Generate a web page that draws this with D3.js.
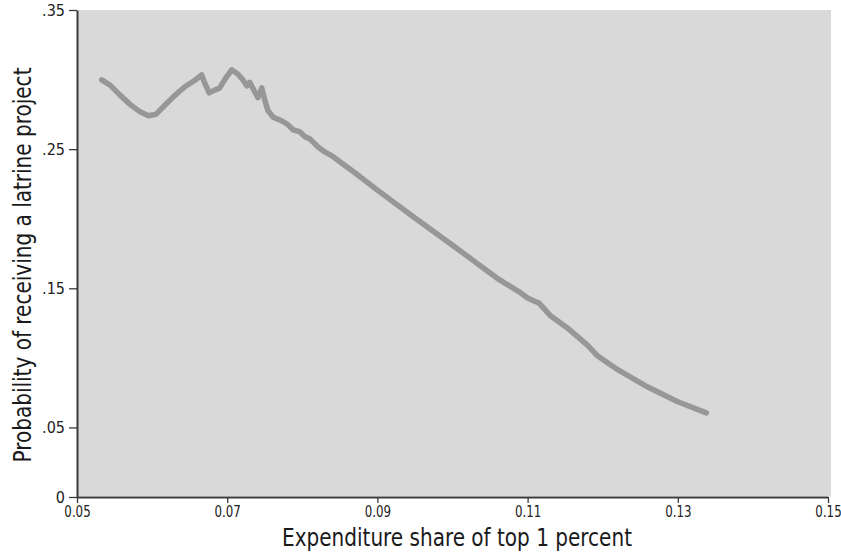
<!DOCTYPE html>
<html>
<head>
<meta charset="utf-8">
<script src="https://cdn.jsdelivr.net/npm/d3@7"></script>
<style>
  html, body { margin: 0; padding: 0; background: #ffffff; }
  svg { display: block; }
  .narrow { font-family: "Liberation Sans Narrow", "DejaVu Sans Condensed", "Arial Narrow", sans-serif; font-stretch: condensed; }
</style>
</head>
<body>
<svg id="chart" width="841" height="552"></svg>
<script>
// ---- data ----
const expenditureShare = [
  0.0533, 0.0544, 0.0557, 0.0571, 0.0584, 0.0595, 0.0605, 0.0617, 0.0630, 0.0644,
  0.0657, 0.0666, 0.0670, 0.0676, 0.0684, 0.0690, 0.0698, 0.0706, 0.0714, 0.0721,
  0.0726, 0.0730, 0.0736, 0.0741, 0.0746, 0.0750, 0.0754, 0.0761, 0.0770, 0.0780,
  0.0788, 0.0797, 0.0804, 0.0810, 0.0821, 0.0830, 0.0840, 0.0850, 0.0870, 0.0900,
  0.0950, 0.1000, 0.1030, 0.1060, 0.1090, 0.1100, 0.1110, 0.1115, 0.1130, 0.1153,
  0.1180, 0.1193, 0.1220, 0.1260, 0.1300, 0.1338
];
const probability = [
  0.2998, 0.2960, 0.2890, 0.2820, 0.2768, 0.2740, 0.2750, 0.2815, 0.2885, 0.2950,
  0.2995, 0.3034, 0.2976, 0.2905, 0.2926, 0.2940, 0.3010, 0.3070, 0.3040, 0.2998,
  0.2955, 0.2980, 0.2920, 0.2870, 0.2940, 0.2854, 0.2780, 0.2730, 0.2710, 0.2680,
  0.2638, 0.2624, 0.2588, 0.2574, 0.2516, 0.2480, 0.2450, 0.2410, 0.2330, 0.2205,
  0.2005, 0.1810, 0.1690, 0.1570, 0.1470, 0.1430, 0.1405, 0.1395, 0.1305, 0.1215,
  0.1090, 0.1015, 0.0915, 0.0790, 0.0685, 0.0605
];
const xTicks = [0.05, 0.07, 0.09, 0.11, 0.13, 0.15];
const xTickLabels = ["0.05", "0.07", "0.09", "0.11", "0.13", "0.15"];
const yTicks = [0, 0.05, 0.15, 0.25, 0.35];
const yTickLabels = ["0", ".05", ".15", ".25", ".35"];
const xTitle = "Expenditure share of top 1 percent";
const yTitle = "Probability of receiving a latrine project";

// ---- layout ----
const svg = d3.select("#chart");
const pLeft = 77, pRight = 828, pTop = 10, pBottom = 497;

const x = d3.scaleLinear().domain([0.05, 0.15]).range([pLeft, pRight]);
const y = d3.scaleLinear().domain([0, 0.35]).range([pBottom, pTop]);

// plot region background
svg.append("rect")
  .attr("x", pLeft + 1).attr("y", pTop)
  .attr("width", pRight - pLeft + 2).attr("height", pBottom - pTop - 1)
  .attr("fill", "#d9d9d9");

// line
const pts = expenditureShare.map((d, i) => [d, probability[i]]);
svg.append("path")
  .datum(pts)
  .attr("fill", "none")
  .attr("stroke", "#979797")
  .attr("stroke-width", 5.5)
  .attr("stroke-linejoin", "round")
  .attr("stroke-linecap", "round")
  .attr("d", d3.line().x(d => x(d[0])).y(d => y(d[1])));

// axes
const xAxis = d3.axisBottom(x).tickValues(xTicks)
  .tickFormat((d, i) => xTickLabels[i]).tickSize(6).tickPadding(3).tickSizeOuter(0);
const gx = svg.append("g").attr("transform", `translate(0,${pBottom})`).call(xAxis);
gx.select(".domain").attr("stroke", "#3a3a3a").attr("stroke-width", 2);
gx.selectAll(".tick line").attr("stroke", "#3a3a3a").attr("stroke-width", 1.3);
gx.selectAll(".tick text").attr("class", "narrow").attr("font-size", 16).attr("fill", "#222")
  .attr("transform", "scale(0.82,1)");

const yAxis = d3.axisLeft(y).tickValues(yTicks)
  .tickFormat((d, i) => yTickLabels[i]).tickSize(8).tickPadding(4).tickSizeOuter(0);
const gy = svg.append("g").attr("transform", `translate(${pLeft},0)`).call(yAxis);
gy.select(".domain").attr("stroke", "#3a3a3a").attr("stroke-width", 2);
gy.selectAll(".tick line").attr("stroke", "#3a3a3a").attr("stroke-width", 1.3);
gy.selectAll(".tick text").attr("class", "narrow").attr("font-size", 16).attr("fill", "#222");

// axis titles
svg.append("text")
  .attr("class", "narrow")
  .attr("x", 457).attr("y", 546)
  .attr("text-anchor", "middle")
  .attr("font-size", 25).attr("fill", "#1a1a1a")
  .attr("textLength", 350).attr("lengthAdjust", "spacingAndGlyphs")
  .text(xTitle);

svg.append("text")
  .attr("class", "narrow")
  .attr("transform", "translate(31,265) rotate(-90)")
  .attr("text-anchor", "middle")
  .attr("font-size", 25).attr("fill", "#1a1a1a")
  .attr("textLength", 395).attr("lengthAdjust", "spacingAndGlyphs")
  .text(yTitle);
</script>
</body>
</html>
